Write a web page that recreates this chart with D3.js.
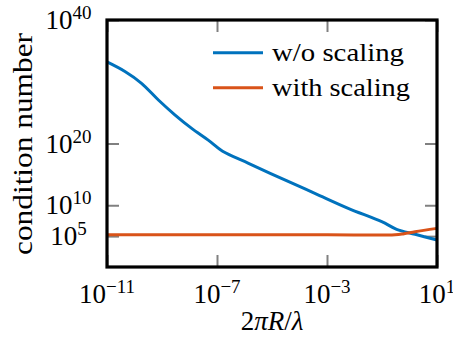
<!DOCTYPE html>
<html>
<head>
<meta charset="utf-8">
<script src="https://cdn.jsdelivr.net/npm/d3@7"></script>
<style>
  html, body { margin: 0; padding: 0; background: #fff; }
</style>
</head>
<body>
<svg id="chart" width="453" height="341"></svg>
<script>
// Condition number vs. normalised size 2πR/λ
const xNoScaling = [1e-11, 4.5e-11, 1.8e-10, 7.4e-10, 3.0e-9, 1.2e-8, 4.8e-8, 1.6e-7, 1.4e-6, 2.2e-5, 3.6e-4, 5.9e-3, 9.8e-2, 0.34, 1.6, 10];
const yNoScaling = [1.6e33, 4.5e31, 5.6e29, 1.1e27, 4.0e24, 2.8e22, 3.5e20, 5.5e18, 6.3e16, 2.2e14, 8.5e11, 3.2e9, 2.2e7, 1.26e6, 2.0e5, 2.3e4];

const xWithScaling = [1e-11, 1e-7, 1e-3, 0.3, 0.63, 1.6, 10];
const yWithScaling = [1.6e5, 1.6e5, 1.6e5, 1.65e5, 2.5e5, 5.2e5, 1.8e6];

const xTicks = [1e-11, 1e-7, 1e-3, 1e1];
const xTickExponents = ["\u221211", "\u22127", "\u22123", "1"];
const yTicks = [1e5, 1e10, 1e20, 1e40];
const yTickExponents = ["5", "10", "20", "40"];

const seriesNames = ["w/o scaling", "with scaling"];
const seriesColors = ["#0072BD", "#D95319"];

const plotLeft = 107, plotRight = 437, plotTop = 20, plotBottom = 267;
const FONT = "Liberation Serif";

const svg = d3.select("#chart");

const x = d3.scaleLog().domain([1e-11, 1e1]).range([plotLeft, plotRight]);
const y = d3.scaleLog().domain([1, 1e40]).range([plotBottom, plotTop]);

// Inward gray tick marks on all four sides
const tickStyle = g => {
  g.select(".domain").remove();
  g.selectAll(".tick line").attr("stroke", "#808080").attr("stroke-width", 2);
  g.selectAll(".tick text").remove();
};
svg.append("g").attr("transform", `translate(0,${plotBottom})`)
  .call(d3.axisBottom(x).tickValues(xTicks).tickSizeInner(-12).tickSizeOuter(0).tickFormat(""))
  .call(tickStyle);
svg.append("g").attr("transform", `translate(0,${plotTop})`)
  .call(d3.axisTop(x).tickValues(xTicks).tickSizeInner(-12).tickSizeOuter(0).tickFormat(""))
  .call(tickStyle);
svg.append("g").attr("transform", `translate(${plotLeft},0)`)
  .call(d3.axisLeft(y).tickValues(yTicks).tickSizeInner(-12).tickSizeOuter(0).tickFormat(""))
  .call(tickStyle);
svg.append("g").attr("transform", `translate(${plotRight},0)`)
  .call(d3.axisRight(y).tickValues(yTicks).tickSizeInner(-12).tickSizeOuter(0).tickFormat(""))
  .call(tickStyle);

// Series
const line = d3.line().x(d => x(d[0])).y(d => y(d[1])).curve(d3.curveCatmullRom.alpha(0.5));
const series = [
  d3.zip(xNoScaling, yNoScaling),
  d3.zip(xWithScaling, yWithScaling)
];
series.forEach((pts, i) => {
  svg.append("path")
    .datum(pts)
    .attr("d", line)
    .attr("fill", "none")
    .attr("stroke", seriesColors[i])
    .attr("stroke-width", 3)
    .attr("stroke-linejoin", "round");
});

// Frame
svg.append("rect")
  .attr("x", plotLeft).attr("y", plotTop)
  .attr("width", plotRight - plotLeft).attr("height", plotBottom - plotTop)
  .attr("fill", "none").attr("stroke", "#000").attr("stroke-width", 3.2);

// Text helper: serif face set both as attribute and inline style
function serif(sel, size) {
  return sel.attr("font-family", FONT).attr("font-size", size)
    .style("font-family", `"${FONT}"`).style("font-size", size + "px");
}

// Power-of-ten labels
function powerLabel(sel, exp) {
  sel.append("tspan").text("10").call(serif, 27);
  sel.append("tspan").text(exp).call(serif, 19).attr("dy", -10);
}
xTicks.forEach((v, i) => {
  svg.append("text")
    .call(serif, 27)
    .attr("x", x(v)).attr("y", 303)
    .attr("text-anchor", "middle")
    .call(powerLabel, xTickExponents[i]);
});
yTicks.forEach((v, i) => {
  svg.append("text")
    .call(serif, 27)
    .attr("x", 68.5).attr("y", y(v) + 9)
    .attr("text-anchor", "middle")
    .call(powerLabel, yTickExponents[i]);
});

// Axis titles
const xt = svg.append("text")
  .call(serif, 27)
  .attr("x", (plotLeft + plotRight) / 2).attr("y", 330)
  .attr("text-anchor", "middle");
xt.append("tspan").text("2");
xt.append("tspan").text("\u03C0R").style("font-style", "italic");
xt.append("tspan").text("/");
xt.append("tspan").text("\u03BB").style("font-style", "italic");

svg.append("text")
  .call(serif, 28)
  .attr("transform", "translate(32,144) rotate(-90)")
  .attr("text-anchor", "middle")
  .attr("textLength", 222).attr("lengthAdjust", "spacingAndGlyphs")
  .text("condition number");

// Legend
const legendRows = [52.7, 87.7];
seriesNames.forEach((name, i) => {
  svg.append("line")
    .attr("x1", 213).attr("x2", 263)
    .attr("y1", legendRows[i]).attr("y2", legendRows[i])
    .attr("stroke", seriesColors[i]).attr("stroke-width", 3);
  svg.append("text")
    .call(serif, 25)
    .attr("x", 272).attr("y", legendRows[i] + 8.5)
    .attr("textLength", i === 0 ? 132 : 138).attr("lengthAdjust", "spacingAndGlyphs")
    .text(name);
});
</script>
</body>
</html>
